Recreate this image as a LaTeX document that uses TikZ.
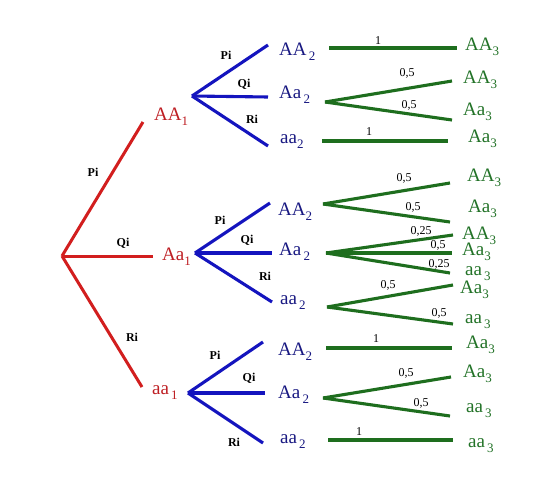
\documentclass[tikz,border=0pt]{standalone}
\usepackage{fontspec}
\setmainfont{Liberation Serif}
\definecolor{redline}{RGB}{210,30,30}
\definecolor{redtext}{RGB}{190,30,35}
\definecolor{blueline}{RGB}{20,20,190}
\definecolor{bluetext}{RGB}{25,25,130}
\definecolor{greenline}{RGB}{30,110,30}
\definecolor{greentext}{RGB}{35,115,40}
\newcommand\gen[2]{\fontsize{19}{19}\selectfont #1\raisebox{-5pt}{\fontsize{13}{13}\selectfont #2}}
\tikzset{
  redl/.style={draw=redline,line width=3pt},
  bluel/.style={draw=blueline,line width=3.1pt},
  greenl/.style={draw=greenline,line width=3.1pt},
  lev1/.style={anchor=base west,inner sep=0pt,text=redtext},
  lev2/.style={anchor=base west,inner sep=0pt,text=bluetext},
  lev3/.style={anchor=base west,inner sep=0pt,text=greentext},
  elab/.style={inner sep=0pt,font=\fontsize{12}{12}\selectfont\bfseries},
  plab/.style={inner sep=0pt,font=\fontsize{12}{12}\selectfont},
}
\begin{document}
\begin{tikzpicture}[x=1pt,y=-1pt]
\useasboundingbox[fill=white] (0,0) rectangle (558,482);
% ---- coordinates
\coordinate (r0) at (62,256);
\coordinate (e1a) at (143,122);
\coordinate (e1b) at (153,256);
\coordinate (e1c) at (142,387);
\coordinate (f1) at (192,96);
\coordinate (f1a) at (268,45);
\coordinate (f1b) at (268,97);
\coordinate (f1c) at (268,146);
\coordinate (f2) at (195,253);
\coordinate (f2a) at (270,203);
\coordinate (f2b) at (272,253);
\coordinate (f2c) at (272,302);
\coordinate (f3) at (188,393);
\coordinate (f3a) at (263,342);
\coordinate (f3b) at (265,393);
\coordinate (f3c) at (263,443);
% green
\coordinate (g1s) at (329,48);  \coordinate (g1e) at (457,48);
\coordinate (g2) at (325,102);  \coordinate (g2a) at (452,81); \coordinate (g2b) at (452,120);
\coordinate (g3s) at (322,141); \coordinate (g3e) at (448,141);
\coordinate (g4) at (323,204);  \coordinate (g4a) at (450,183); \coordinate (g4b) at (450,222);
\coordinate (g5) at (326,253);  \coordinate (g5a) at (453,235); \coordinate (g5b) at (452,253); \coordinate (g5c) at (450,273);
\coordinate (g6) at (327,307);  \coordinate (g6a) at (453,285); \coordinate (g6b) at (453,324);
\coordinate (g7s) at (326,348); \coordinate (g7e) at (452,348);
\coordinate (g8) at (323,398);  \coordinate (g8a) at (451,377); \coordinate (g8b) at (450,416);
\coordinate (g9s) at (328,440); \coordinate (g9e) at (453,440);
% ---- red edges
\draw[redl] (r0) -- (e1a);
\draw[redl] (r0) -- (e1b);
\draw[redl] (r0) -- (e1c);
% ---- blue edges
\draw[bluel] (f1) -- (f1a); \draw[bluel] (f1) -- (f1b); \draw[bluel] (f1) -- (f1c);
\draw[bluel] (f2) -- (f2a); \draw[bluel] (f2) -- (f2b); \draw[bluel] (f2) -- (f2c);
\draw[bluel] (f3) -- (f3a); \draw[bluel] (f3) -- (f3b); \draw[bluel] (f3) -- (f3c);
% ---- green edges
\draw[greenl] (g1s) -- (g1e);
\draw[greenl] (g2) -- (g2a); \draw[greenl] (g2) -- (g2b);
\draw[greenl] (g3s) -- (g3e);
\draw[greenl] (g4) -- (g4a); \draw[greenl] (g4) -- (g4b);
\draw[greenl] (g5) -- (g5a); \draw[greenl] (g5) -- (g5b); \draw[greenl] (g5) -- (g5c);
\draw[greenl] (g6) -- (g6a); \draw[greenl] (g6) -- (g6b);
\draw[greenl] (g7s) -- (g7e);
\draw[greenl] (g8) -- (g8a); \draw[greenl] (g8) -- (g8b);
\draw[greenl] (g9s) -- (g9e);
% ---- edge labels
\node[elab] (lr1) at (93,172) {Pi};
\node[elab] (lr2) at (123,243) {Qi};
\node[elab] (lr3) at (132,337) {Ri};
\node[elab] (lb11) at (226,55) {Pi};
\node[elab] (lb12) at (244,84) {Qi};
\node[elab] (lb13) at (252,119) {Ri};
\node[elab] (lb21) at (220,220) {Pi};
\node[elab] (lb22) at (247,240) {Qi};
\node[elab] (lb23) at (265,276) {Ri};
\node[elab] (lb31) at (215,355) {Pi};
\node[elab] (lb32) at (249,378) {Qi};
\node[elab] (lb33) at (234,442) {Ri};
% green probabilities
\node[plab] (p1) at (378,41) {1};
\node[plab] (p2a) at (407,73) {0,5};
\node[plab] (p2b) at (409,105) {0,5};
\node[plab] (p3) at (369,132) {1};
\node[plab] (p4a) at (404,178) {0,5};
\node[plab] (p4b) at (413,207) {0,5};
\node[plab] (p5a) at (421,231) {0,25};
\node[plab] (p5b) at (438,245) {0,5};
\node[plab] (p5c) at (439,264) {0,25};
\node[plab] (p6a) at (388,285) {0,5};
\node[plab] (p6b) at (439,313) {0,5};
\node[plab] (p7) at (376,339) {1};
\node[plab] (p8a) at (406,373) {0,5};
\node[plab] (p8b) at (421,403) {0,5};
\node[plab] (p9) at (359,432) {1};
% ---- level 1
\node[lev1] (AA1) at (154,120) {\gen{AA}{1}};
\node[lev1] (Aa1) at (162,260) {\gen{Aa}{1}};
\node[lev1] (aa1) at (152,394) {\gen{aa}{\,1}};
% ---- level 2
\node[lev2] (n11) at (279,55) {\gen{AA}{\,2}};
\node[lev2] (n12) at (279,98) {\gen{Aa}{\,2}};
\node[lev2] (n13) at (280,143) {\gen{aa}{2}};
\node[lev2] (n21) at (278,215) {\gen{AA}{2}};
\node[lev2] (n22) at (279,255) {\gen{Aa}{\,2}};
\node[lev2] (n23) at (280,304) {\gen{aa}{\,2}};
\node[lev2] (n31) at (278,355) {\gen{AA}{2}};
\node[lev2] (n32) at (278,398) {\gen{Aa}{\,2}};
\node[lev2] (n33) at (280,443) {\gen{aa}{\,2}};
% ---- level 3
\node[lev3] (m1) at (465,50) {\gen{AA}{3}};
\node[lev3] (m2) at (463,83) {\gen{AA}{3}};
\node[lev3] (m3) at (463,115) {\gen{Aa}{3}};
\node[lev3] (m4) at (468,142) {\gen{Aa}{3}};
\node[lev3] (m5) at (467,181) {\gen{AA}{3}};
\node[lev3] (m6) at (468,212) {\gen{Aa}{3}};
\node[lev3] (m7) at (462,239) {\gen{AA}{3}};
\node[lev3] (m8) at (462,255) {\gen{Aa}{3}};
\node[lev3] (m9) at (465,275) {\gen{aa}{\,3}};
\node[lev3] (m10) at (460,293) {\gen{Aa}{3}};
\node[lev3] (m11) at (465,323) {\gen{aa}{\,3}};
\node[lev3] (m12) at (466,348) {\gen{Aa}{3}};
\node[lev3] (m13) at (463,377) {\gen{Aa}{3}};
\node[lev3] (m14) at (466,412) {\gen{aa}{\,3}};
\node[lev3] (m15) at (468,447) {\gen{aa}{\,3}};
\end{tikzpicture}
\end{document}
